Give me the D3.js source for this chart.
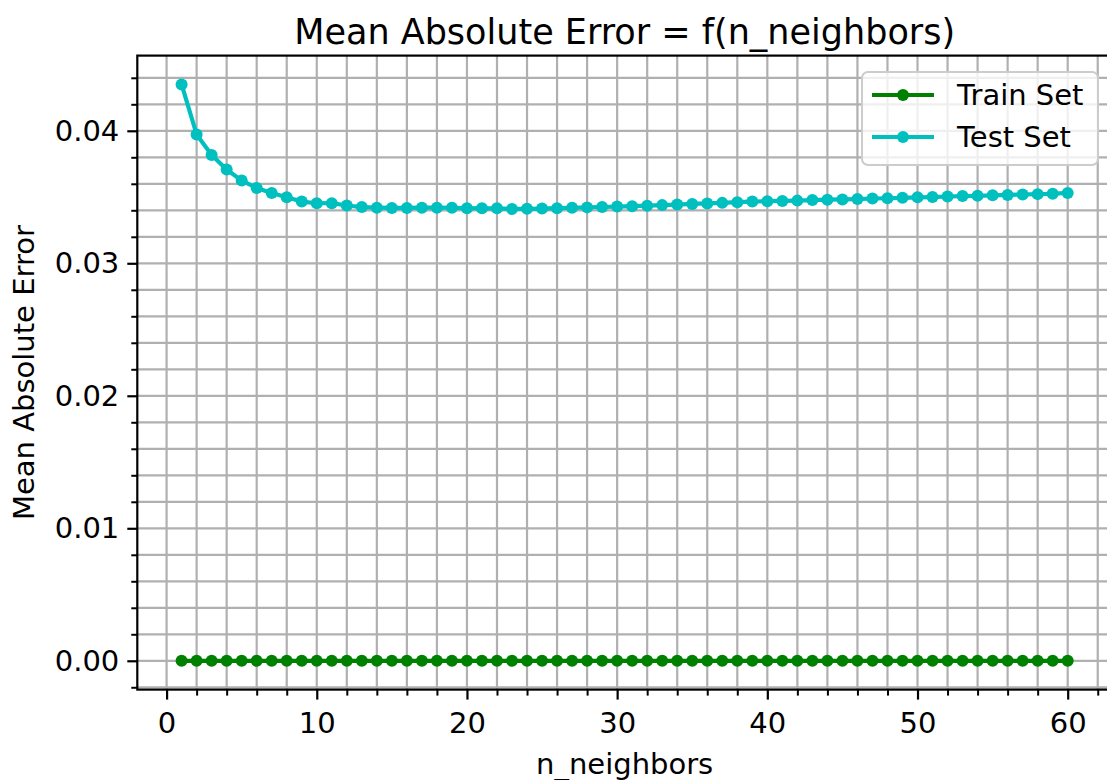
<!DOCTYPE html>
<html>
<head>
<meta charset="utf-8">
<script src="https://cdn.jsdelivr.net/npm/d3@7"></script>
<style>
  html, body { margin: 0; padding: 0; background: #fff; }
  svg { display: block; font-family: "DejaVu Sans", sans-serif; }
</style>
</head>
<body>
<svg id="chart" width="1107" height="780"></svg>
<script>
// ---- data ----
const nNeighbors = d3.range(1, 61);
const trainMAE = [
  0,0,0,0,0,0,0,0,0,0, 0,0,0,0,0,0,0,0,0,0,
  0,0,0,0,0,0,0,0,0,0, 0,0,0,0,0,0,0,0,0,0,
  0,0,0,0,0,0,0,0,0,0, 0,0,0,0,0,0,0,0,0,0
];
const testMAE = [
  0.04350, 0.03972, 0.03818, 0.03708, 0.03624, 0.03569, 0.03530, 0.03498, 0.03466, 0.03453,
  0.03454, 0.03436, 0.03424, 0.03420, 0.03418, 0.03418, 0.03420, 0.03420, 0.03419, 0.03416,
  0.03415, 0.03415, 0.03410, 0.03411, 0.03413, 0.03416, 0.03419, 0.03422, 0.03425, 0.03428,
  0.03431, 0.03435, 0.03439, 0.03443, 0.03448, 0.03452, 0.03456, 0.03461, 0.03466, 0.03469,
  0.03471, 0.03473, 0.03477, 0.03480, 0.03482, 0.03485, 0.03489, 0.03491, 0.03494, 0.03498,
  0.03500, 0.03504, 0.03507, 0.03509, 0.03513, 0.03516, 0.03519, 0.03522, 0.03525, 0.03531
];
const xTicks = [0, 10, 20, 30, 40, 50, 60];
const yTicks = [0.00, 0.01, 0.02, 0.03, 0.04];
const seriesNames = ["Train Set", "Test Set"];
const seriesColors = ["#008000", "#00bfbf"];
const titleText = "Mean Absolute Error = f(n_neighbors)";
const xLabel = "n_neighbors";
const yLabel = "Mean Absolute Error";

// ---- layout ----
const svg = d3.select("#chart");
const L = 137.3, R = 1112, T = 55.6, B = 689.6;

const xMin = d3.min(nNeighbors), xMax = d3.max(nNeighbors);
const xPad = (xMax - xMin) * 0.05;
const yAll = trainMAE.concat(testMAE);
const yMin = d3.min(yAll), yMax = d3.max(yAll);
const yPad = (yMax - yMin) * 0.05;

const x = d3.scaleLinear().domain([xMin - xPad, xMax + xPad]).range([L, R]);
const y = d3.scaleLinear().domain([yMin - yPad, yMax + yPad]).range([B, T]);

const xMinor = d3.range(-2, 64, 2).filter(v => x(v) >= L && !xTicks.includes(v));
const yMinor = d3.range(-0.002, 0.0461, 0.002).map(v => +v.toFixed(4)).filter(v => y(v) <= B + 0.1 && y(v) >= T && !yTicks.some(t => Math.abs(t - v) < 1e-9));

const gridCol = "#b0b0b0";
const grid = svg.append("g");
xTicks.concat(xMinor).forEach(v => {
  grid.append("line").attr("x1", x(v)).attr("x2", x(v)).attr("y1", T).attr("y2", B)
    .attr("stroke", gridCol).attr("stroke-width", 2.2);
});
yTicks.concat(yMinor).forEach(v => {
  grid.append("line").attr("x1", L).attr("x2", R).attr("y1", y(v)).attr("y2", y(v))
    .attr("stroke", gridCol).attr("stroke-width", 2.2);
});

// ---- series ----
const line = d3.line().x((d, i) => x(nNeighbors[i])).y(d => y(d));
[trainMAE, testMAE].forEach((s, k) => {
  svg.append("path").datum(s).attr("d", line).attr("fill", "none")
    .attr("stroke", seriesColors[k]).attr("stroke-width", 4.2).attr("stroke-linejoin", "round");
  svg.append("g").selectAll("circle").data(s).join("circle")
    .attr("cx", (d, i) => x(nNeighbors[i])).attr("cy", d => y(d)).attr("r", 6)
    .attr("fill", seriesColors[k]);
});

// ---- axes ----
const fs = 29;
const xAxis = d3.axisBottom(x).tickValues(xTicks).tickFormat(d3.format("d")).tickSize(10).tickPadding(13);
const gx = svg.append("g").attr("transform", `translate(0,${B})`).call(xAxis);
const yAxis = d3.axisLeft(y).tickValues(yTicks).tickFormat(d3.format(".2f")).tickSize(10).tickPadding(8);
const gy = svg.append("g").attr("transform", `translate(${L},0)`).call(yAxis);
[gx, gy].forEach(g => {
  g.select(".domain").remove();
  g.selectAll("line").attr("stroke", "#000").attr("stroke-width", 2.2);
  g.selectAll("text").attr("font-size", fs).attr("fill", "#000").attr("font-family", "DejaVu Sans");
});
gx.selectAll("text").attr("dy", "0.71em");
const gxm = svg.append("g").attr("transform", `translate(0,${B})`)
  .call(d3.axisBottom(x).tickValues(xMinor).tickFormat("").tickSize(6));
const gym = svg.append("g").attr("transform", `translate(${L},0)`)
  .call(d3.axisLeft(y).tickValues(yMinor).tickFormat("").tickSize(6));
[gxm, gym].forEach(g => {
  g.select(".domain").remove();
  g.selectAll("line").attr("stroke", "#000").attr("stroke-width", 2);
});

// spines
svg.append("rect").attr("x", L).attr("y", T).attr("width", R - L).attr("height", B - T)
  .attr("fill", "none").attr("stroke", "#000").attr("stroke-width", 2.2);

// ---- labels ----
svg.append("text").attr("x", (L + R) / 2).attr("y", 44).attr("text-anchor", "middle")
  .attr("font-size", 35).text(titleText);
svg.append("text").attr("x", (L + R) / 2).attr("y", 774).attr("text-anchor", "middle")
  .attr("font-size", fs).text(xLabel);
svg.append("text").attr("transform", `translate(34,${(T + B) / 2}) rotate(-90)`)
  .attr("text-anchor", "middle").attr("font-size", fs).text(yLabel);

// ---- legend ----
const lg = svg.append("g");
lg.append("rect").attr("x", 862).attr("y", 72).attr("width", 236).attr("height", 93)
  .attr("rx", 6).attr("fill", "#fff").attr("fill-opacity", 0.8)
  .attr("stroke", "#cccccc").attr("stroke-width", 2);
seriesNames.forEach((nm, k) => {
  const yy = 95 + k * 42;
  lg.append("line").attr("x1", 872).attr("x2", 934).attr("y1", yy).attr("y2", yy)
    .attr("stroke", seriesColors[k]).attr("stroke-width", 4.2);
  lg.append("circle").attr("cx", 903).attr("cy", yy).attr("r", 6).attr("fill", seriesColors[k]);
  lg.append("text").attr("x", 957).attr("y", yy).attr("dy", "0.35em").attr("font-size", fs).text(nm);
});
</script>
</body>
</html>
